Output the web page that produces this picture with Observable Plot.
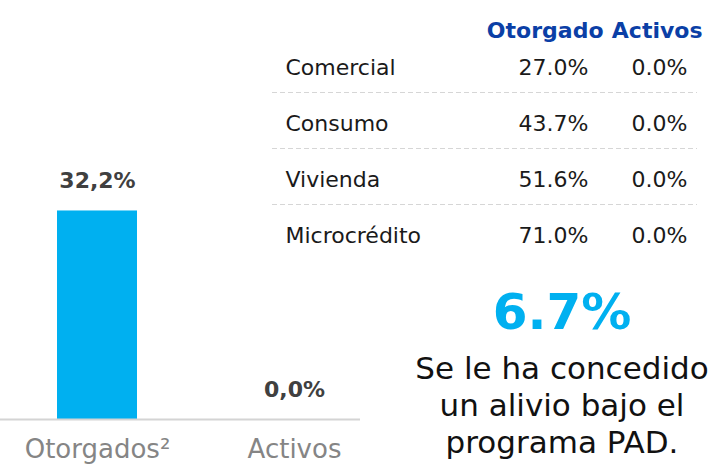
<!DOCTYPE html>
<html><head><meta charset="utf-8">
<script src="https://cdn.jsdelivr.net/npm/d3@7"></script>
<script src="https://cdn.jsdelivr.net/npm/@observablehq/plot@0.6"></script>
<style>
body{margin:0;background:#fff;}
#wrap{position:relative;width:709px;height:465px;overflow:hidden;font-family:"DejaVu Sans",sans-serif;}
#wrap > div{position:absolute;}
#big{left:402px;width:320px;top:282px;text-align:center;white-space:nowrap;}
#bigval{font-size:50px;font-weight:bold;color:#00b0f0;line-height:60px;}
#bigtxt{font-size:31px;color:#111;line-height:37px;margin-top:8px;}
</style></head><body><div id="wrap"></div>
<script>
const FONT = '"DejaVu Sans", sans-serif';
const barCategories = ["Otorgados²", "Activos"];
const barValues = [32.2, 0.0];
const barLabels = ["32,2%", "0,0%"];
const tableRows = ["Comercial", "Consumo", "Vivienda", "Microcrédito"];
const tableColumns = ["Otorgado", "Activos"];
const otorgadoValues = [27.0, 43.7, 51.6, 71.0];
const activosValues = [0.0, 0.0, 0.0, 0.0];
const highlightValue = "6.7%";
const highlightText = ["Se le ha concedido", "un alivio bajo el", "programa PAD."];

const wrap = document.getElementById("wrap");

const bars = barCategories.map((c, i) => ({cat: c, value: barValues[i], label: barLabels[i]}));
const barPlot = Plot.plot({
  width: 360, height: 465, marginLeft: 0, marginRight: 0, marginTop: 0, marginBottom: 46,
  style: {fontFamily: FONT, background: "transparent", overflow: "visible"},
  x: {domain: barCategories, range: [17, 374], paddingInner: 0.596, paddingOuter: 0.2},
  y: {domain: [0, 64.7], axis: null},
  marks: [
    Plot.barY(bars, {x: "cat", y: "value", fill: "#00b0f0"}),
    Plot.ruleY([0], {stroke: "#d4d4d4", strokeWidth: 2}),
    Plot.text(bars, {x: "cat", y: "value", text: "label", dy: -30, fontSize: 22, fontWeight: "bold", fill: "#404040"}),
    Plot.axisX({tickSize: 0, tickPadding: 20, fontSize: 26, fill: "#858585", label: null})
  ]
});
const d1 = document.createElement("div");
d1.style.left = "0px"; d1.style.top = "0px";
d1.appendChild(barPlot);
wrap.appendChild(d1);

const tableData = tableRows.flatMap((r, i) => [
  {row: r, col: "Otorgado", v: otorgadoValues[i]},
  {row: r, col: "Activos", v: activosValues[i]}
]);
const tablePlot = Plot.plot({
  width: 437, height: 270, marginLeft: 0, marginRight: 12, marginTop: 0, marginBottom: 0,
  style: {fontFamily: FONT, background: "transparent", overflow: "visible"},
  x: {domain: tableColumns, type: "point", range: [316, 415], padding: 0, axis: null},
  y: {domain: tableRows, type: "band", range: [36, 267], axis: null},
  marks: [
    Plot.ruleY(tableRows.slice(1), {y: d => d, dy: -31, stroke: "#d6d6d6", strokeDasharray: "5,3"}),
    Plot.text(tableRows, {y: d => d, text: d => d, frameAnchor: "left", dx: 13, textAnchor: "start", fontSize: 22, fill: "#1a1a1a"}),
    Plot.text(tableData, {x: "col", y: "row", text: d => d.v.toFixed(1) + "%", textAnchor: "end", fontSize: 22, fill: "#1a1a1a"}),
    Plot.text(tableColumns, {x: d => d, text: d => d, frameAnchor: "top", dy: 22, textAnchor: "end", dx: 15, fontSize: 22, fontWeight: "bold", fill: "#0b3fa6"})
  ]
});
const d2 = document.createElement("div");
d2.style.left = "272px"; d2.style.top = "0px";
d2.appendChild(tablePlot);
wrap.appendChild(d2);

const big = document.createElement("div");
big.id = "big";
const bv = document.createElement("div"); bv.id = "bigval"; bv.textContent = highlightValue;
const bt = document.createElement("div"); bt.id = "bigtxt";
highlightText.forEach(t => { const l = document.createElement("div"); l.textContent = t; bt.appendChild(l); });
big.appendChild(bv); big.appendChild(bt);
wrap.appendChild(big);
</script>
</body></html>
